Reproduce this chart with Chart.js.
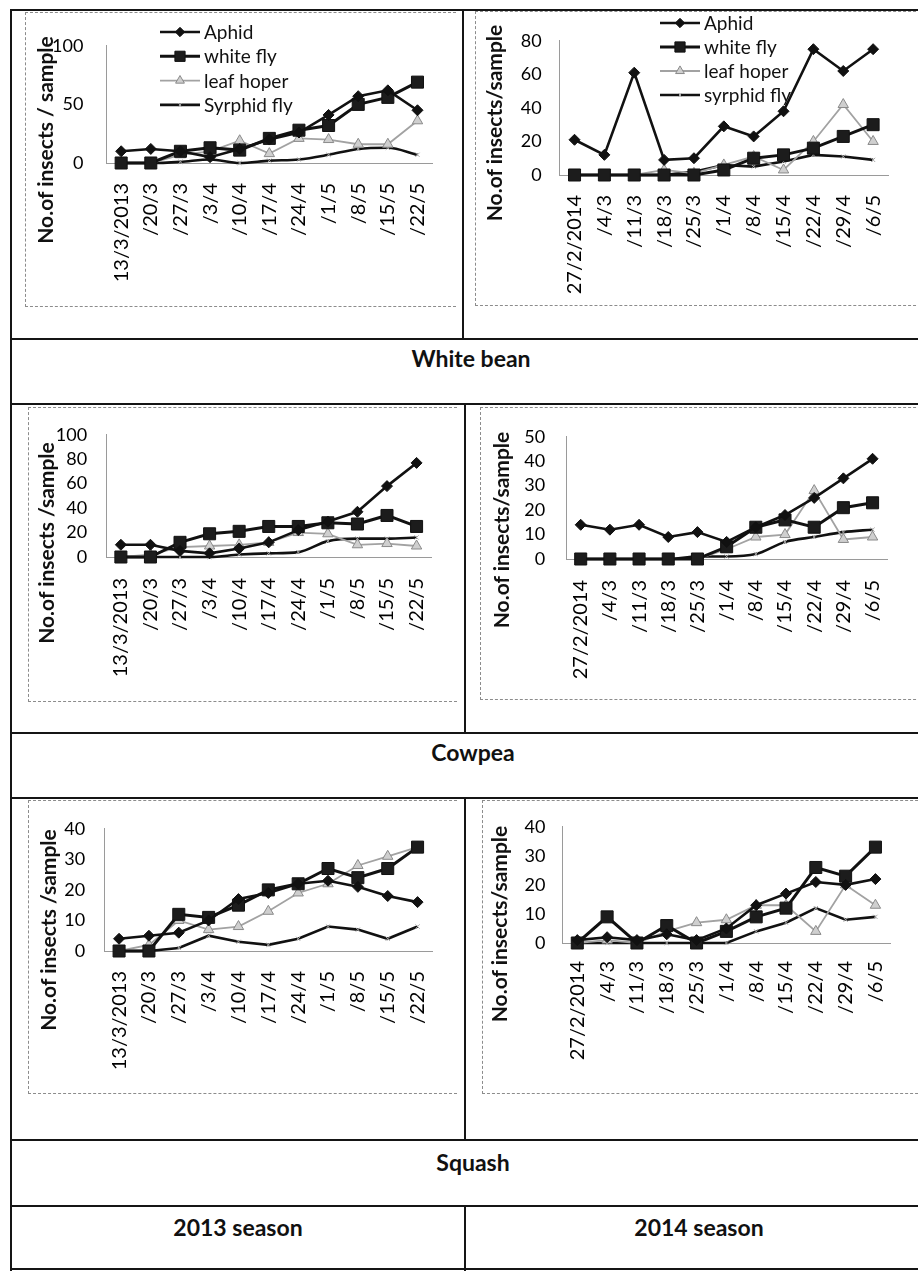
<!DOCTYPE html>
<html>
<head>
<meta charset="utf-8">
<title>Insect counts per sample</title>
<script src="https://cdn.jsdelivr.net/npm/chart.js@4.4.1/dist/chart.umd.min.js"></script>
<style>
  html, body { margin: 0; padding: 0; background: #fff; }
  #page { position: relative; width: 918px; height: 1271px; overflow: hidden; background: #fff;
          font-family: Lato, "Liberation Sans", sans-serif; color: #111; }
  .hl { position: absolute; height: 2px; background: #151515; }
  .vl { position: absolute; width: 2px; background: #151515; }
  .box { position: absolute; border: 1px dashed #8c8c8c; border-right: none; }
  .cap { position: absolute; font-weight: bold; font-size: 23px; white-space: nowrap;
         transform: translate(-50%, -50%); }
  .ytitle { position: absolute; font-weight: bold; font-size: 21px; white-space: nowrap;
            transform: translate(-50%, -50%) rotate(-90deg); }
  canvas { position: absolute; }
</style>
</head>
<body>
<div id="page">
  <!-- table frame -->
  <div class="hl" style="left:10px;top:9px;width:910px"></div>
  <div class="vl" style="left:10px;top:9px;height:1262px"></div>
  <div class="hl" style="left:10px;top:338px;width:910px"></div>
  <div class="hl" style="left:10px;top:403px;width:910px"></div>
  <div class="hl" style="left:10px;top:732px;width:910px"></div>
  <div class="hl" style="left:10px;top:797px;width:910px"></div>
  <div class="hl" style="left:10px;top:1139px;width:910px"></div>
  <div class="hl" style="left:10px;top:1205px;width:910px"></div>
  <div class="hl" style="left:10px;top:1268px;width:910px"></div>
  <div class="vl" style="left:462px;top:9px;height:330px"></div>
  <div class="vl" style="left:464px;top:403px;height:330px"></div>
  <div class="vl" style="left:464px;top:797px;height:343px"></div>
  <div class="vl" style="left:464px;top:1205px;height:66px"></div>

  <!-- dashed chart frames -->
  <div class="box" style="left:25px;top:12px;width:430px;height:293px"></div>
  <div class="box" style="left:475px;top:11px;width:450px;height:293px"></div>
  <div class="box" style="left:28px;top:407px;width:428px;height:293px"></div>
  <div class="box" style="left:480px;top:407px;width:450px;height:291px"></div>
  <div class="box" style="left:28px;top:800px;width:428px;height:292px"></div>
  <div class="box" style="left:482px;top:800px;width:450px;height:292px"></div>

  <canvas id="c1"></canvas>
  <canvas id="c2"></canvas>
  <canvas id="c3"></canvas>
  <canvas id="c4"></canvas>
  <canvas id="c5"></canvas>
  <canvas id="c6"></canvas>

  <div class="cap" style="left:471px;top:358px">White bean</div>
  <div class="cap" style="left:473px;top:752px">Cowpea</div>
  <div class="cap" style="left:473px;top:1162px">Squash</div>
  <div class="cap" style="left:238px;top:1227px">2013 season</div>
  <div class="cap" style="left:699px;top:1227px">2014 season</div>
</div>

<script>
// Sampling dates
const dates2013 = ['13/3/2013', '/20/3', '/27/3', '/3/4', '/10/4', '/17/4', '/24/4', '/1/5', '/8/5', '/15/5', '/22/5'];
const dates2014 = ['27/2/2014', '/4/3', '/11/3', '/18/3', '/25/3', '/1/4', '/8/4', '/15/4', '/22/4', '/29/4', '/6/5'];

const insectNames = ['Aphid', 'white fly', 'leaf hoper', 'syrphid fly'];
const insectNamesBean2013 = ['Aphid', 'white fly', 'leaf hoper', 'Syrphid fly'];

// White bean, 2013 season
const bean13Aphid     = [10, 12, 10, 5, 12, 20, 26, 41, 57, 62, 45];
const bean13WhiteFly  = [0, 0, 10, 13, 11, 21, 28, 32, 50, 56, 69];
const bean13LeafHoper = [0, 0, 7, 10, 19, 8, 21, 20, 16, 16, 36];
const bean13Syrphid   = [0, 0, 1, 3, 0, 2, 3, 7, 12, 13, 7];

// White bean, 2014 season
const bean14Aphid     = [21, 12, 61, 9, 10, 29, 23, 38, 75, 62, 75];
const bean14WhiteFly  = [0, 0, 0, 0, 0, 3, 10, 12, 16, 23, 30];
const bean14LeafHoper = [0, 0, 0, 3, 1, 6, 11, 3, 20, 42, 20];
const bean14Syrphid   = [0, 0, 0, 0, 2, 6, 5, 8, 12, 11, 9];

// Cowpea, 2013 season
const cow13Aphid     = [10, 10, 5, 3, 7, 12, 22, 29, 37, 58, 77];
const cow13WhiteFly  = [0, 0, 12, 19, 21, 25, 25, 28, 27, 34, 25];
const cow13LeafHoper = [0, 2, 8, 9, 10, 12, 20, 19, 10, 11, 9];
const cow13Syrphid   = [0, 0, 0, 0, 2, 3, 4, 13, 15, 15, 16];

// Cowpea, 2014 season
const cow14Aphid     = [14, 12, 14, 9, 11, 7, 13, 18, 25, 33, 41];
const cow14WhiteFly  = [0, 0, 0, 0, 0, 5, 13, 16, 13, 21, 23];
const cow14LeafHoper = [0, 0, 0, 0, 0, 4, 9, 10, 28, 8, 9];
const cow14Syrphid   = [0, 0, 0, 0, 1, 1, 2, 7, 9, 11, 12];

// Squash, 2013 season
const sq13Aphid     = [4, 5, 6, 10, 17, 19, 22, 23, 21, 18, 16];
const sq13WhiteFly  = [0, 0, 12, 11, 15, 20, 22, 27, 24, 27, 34];
const sq13LeafHoper = [0, 2, 10, 7, 8, 13, 19, 22, 28, 31, 34];
const sq13Syrphid   = [0, 0, 1, 5, 3, 2, 4, 8, 7, 4, 8];

// Squash, 2014 season
const sq14Aphid     = [1, 2, 1, 3, 1, 5, 13, 17, 21, 20, 22];
const sq14WhiteFly  = [0, 9, 0, 6, 0, 4, 9, 12, 26, 23, 33];
const sq14LeafHoper = [0, 1, 0, 4, 7, 8, 13, 13, 4, 20, 13];
const sq14Syrphid   = [0, 0, 0, 0, 0, 0, 4, 7, 12, 8, 9];

// Value axis ranges per panel: [max, step]
const axisBean13 = [100, 50];
const axisBean14 = [80, 20];
const axisCow13  = [100, 20];
const axisCow14  = [50, 10];
const axisSq13   = [40, 10];
const axisSq14   = [40, 10];

const FONT = 'Lato, "Liberation Sans", sans-serif';
const INK = '#111';

function buildDatasets(names, aphid, whiteFly, leafHoper, syrphid, smooth) {
  return [
    { label: names[0], data: aphid, borderColor: INK, borderWidth: 2.6,
      pointStyle: 'rectRot', pointRadius: 5.5, pointBackgroundColor: INK, pointBorderColor: INK,
      pointBorderWidth: 1, clip: false },
    { label: names[1], data: whiteFly, borderColor: INK, borderWidth: 3,
      pointStyle: 'rect', pointRadius: 8.5, pointBackgroundColor: '#1c1c1c', pointBorderColor: INK,
      pointBorderWidth: 1, clip: false },
    { label: names[2], data: leafHoper, borderColor: '#a2a2a2', borderWidth: 1.8,
      pointStyle: 'triangle', pointRadius: 6, pointBackgroundColor: '#cfcfcf', pointBorderColor: '#8a8a8a',
      pointBorderWidth: 1, clip: false },
    { label: names[3], data: syrphid, borderColor: INK, borderWidth: 2.6,
      pointStyle: 'crossRot', pointRadius: 3, pointBorderColor: '#a8a8a8', pointBackgroundColor: '#a8a8a8',
      pointBorderWidth: 1, clip: false,
      cubicInterpolationMode: smooth ? 'monotone' : 'default', tension: 0 }
  ];
}

// Vertical legend with line samples, drawn at a fixed page position
const sideLegend = {
  id: 'sideLegend',
  afterDraw(chart, args, opts) {
    if (!opts || !opts.show) return;
    const ctx = chart.ctx;
    const ox = opts.originX, oy = opts.originY;
    chart.data.datasets.forEach((ds, i) => {
      const y = opts.y + i * opts.gap - oy;
      const x0 = opts.x - ox;
      ctx.save();
      ctx.strokeStyle = ds.borderColor;
      ctx.lineWidth = ds.borderWidth;
      ctx.beginPath();
      ctx.moveTo(x0, y);
      ctx.lineTo(x0 + opts.len, y);
      ctx.stroke();
      ctx.fillStyle = ds.pointBackgroundColor;
      ctx.strokeStyle = ds.pointBorderColor;
      ctx.lineWidth = ds.pointBorderWidth;
      Chart.helpers.drawPoint(ctx, {
        pointStyle: ds.pointStyle, radius: ds.pointRadius * 0.85, rotation: 0, borderWidth: ds.pointBorderWidth
      }, x0 + opts.len / 2, y);
      ctx.fillStyle = INK;
      ctx.font = '19px ' + FONT;
      ctx.textBaseline = 'middle';
      ctx.textAlign = 'left';
      ctx.fillText(ds.label, x0 + opts.len + 4, y + 1);
      ctx.restore();
    });
  }
};

const Y_AXIS_W = 60;
const X_AXIS_H = 130;

function makePanel(p) {
  const canvas = document.getElementById(p.id);
  const [cx, cy, cw, ch] = p.cell;
  canvas.width = cw; canvas.height = ch;
  canvas.style.left = cx + 'px'; canvas.style.top = cy + 'px';
  canvas.style.width = cw + 'px'; canvas.style.height = ch + 'px';

  const n = p.labels.length;
  const step = (p.lastX - p.firstX) / (n - 1);
  const plotLeft = p.firstX - step / 2;
  const plotRight = p.lastX + step / 2;

  const pad = {
    left: plotLeft - cx - Y_AXIS_W,
    right: cx + cw - plotRight,
    top: p.topY - cy,
    bottom: cy + ch - p.zeroY - X_AXIS_H
  };

  const legendOpts = p.legend
    ? Object.assign({ show: true, originX: cx, originY: cy }, p.legend)
    : { show: false };

  new Chart(canvas, {
    type: 'line',
    data: { labels: p.labels, datasets: p.datasets },
    options: {
      responsive: false,
      animation: false,
      devicePixelRatio: 1,
      layout: { padding: pad },
      elements: { line: { fill: false } },
      plugins: { legend: { display: false }, tooltip: { enabled: false }, sideLegend: legendOpts },
      scales: {
        x: {
          type: 'category',
          offset: true,
          grid: { display: false, drawTicks: false },
          border: { display: true, color: '#9a9a9a', width: 1, dash: [2, 2] },
          ticks: {
            autoSkip: false, minRotation: 90, maxRotation: 90, padding: p.xPad,
            color: '#000', font: { family: FONT, size: 20 }
          },
          afterFit(s) { s.height = X_AXIS_H; }
        },
        y: {
          min: 0, max: p.axis[0],
          grid: { display: false, drawTicks: false },
          border: { display: true, color: '#9a9a9a', width: 1, dash: [2, 2] },
          ticks: { stepSize: p.axis[1], autoSkip: false, padding: p.yPad, color: '#000',
                   font: { family: FONT, size: 18 } },
          afterFit(s) { s.width = Y_AXIS_W; }
        }
      }
    },
    plugins: [sideLegend]
  });

  const t = document.createElement('div');
  t.className = 'ytitle';
  t.textContent = p.title;
  t.style.left = p.titleAt[0] + 'px';
  t.style.top = p.titleAt[1] + 'px';
  document.getElementById('page').appendChild(t);
}

makePanel({
  id: 'c1', cell: [13, 12, 449, 326], firstX: 122, lastX: 435, topY: 27, zeroY: 163,
  axis: axisBean13, labels: dates2013, xPad: 20, yPad: 23,
  datasets: buildDatasets(insectNamesBean2013, bean13Aphid, bean13WhiteFly, bean13LeafHoper, bean13Syrphid, true),
  title: 'No.of insects / sample', titleAt: [44, 140],
  legend: { x: 160, y: 32, gap: 24.3, len: 40 }
});
makePanel({
  id: 'c2', cell: [466, 12, 452, 326], firstX: 575, lastX: 883, topY: 25, zeroY: 175,
  axis: axisBean14, labels: dates2014, xPad: 20, yPad: 18,
  datasets: buildDatasets(insectNames, bean14Aphid, bean14WhiteFly, bean14LeafHoper, bean14Syrphid, false),
  title: 'No.of insects/sample', titleAt: [493, 123],
  legend: { x: 660, y: 23, gap: 24, len: 40 }
});
makePanel({
  id: 'c3', cell: [13, 405, 449, 327], firstX: 122, lastX: 440, topY: 433, zeroY: 557,
  axis: axisCow13, labels: dates2013, xPad: 21, yPad: 19,
  datasets: buildDatasets(insectNames, cow13Aphid, cow13WhiteFly, cow13LeafHoper, cow13Syrphid, true),
  title: 'No.of insects /sample', titleAt: [45, 543]
});
makePanel({
  id: 'c4', cell: [466, 405, 452, 327], firstX: 582, lastX: 900, topY: 422, zeroY: 559,
  axis: axisCow14, labels: dates2014, xPad: 21, yPad: 21,
  datasets: buildDatasets(insectNames, cow14Aphid, cow14WhiteFly, cow14LeafHoper, cow14Syrphid, true),
  title: 'No.of insects/sample', titleAt: [500, 530]
});
makePanel({
  id: 'c5', cell: [13, 799, 449, 340], firstX: 120, lastX: 437, topY: 828, zeroY: 951,
  axis: axisSq13, labels: dates2013, xPad: 20, yPad: 19,
  datasets: buildDatasets(insectNames, sq13Aphid, sq13WhiteFly, sq13LeafHoper, sq13Syrphid, false),
  title: 'No.of insects /sample', titleAt: [47, 930]
});
makePanel({
  id: 'c6', cell: [466, 799, 452, 340], firstX: 578, lastX: 890, topY: 817, zeroY: 943,
  axis: axisSq14, labels: dates2014, xPad: 18, yPad: 17,
  datasets: buildDatasets(insectNames, sq14Aphid, sq14WhiteFly, sq14LeafHoper, sq14Syrphid, false),
  title: 'No.of insects/sample', titleAt: [498, 924]
});
</script>
</body>
</html>
